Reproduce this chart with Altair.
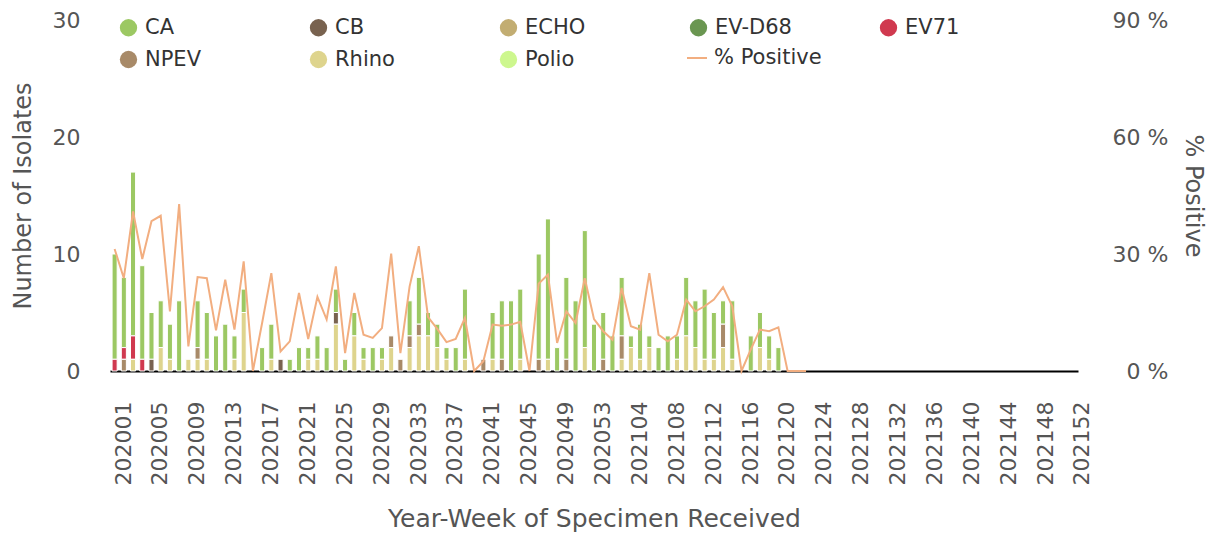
import altair as alt
import pandas as pd

# x categories: year-week
weeks = [f"2020{w:02d}" for w in range(1, 54)] + [f"2021{w:02d}" for w in range(1, 53)]
tick_weeks = weeks[::4]

types = ["CA", "CB", "ECHO", "EV-D68", "EV71", "NPEV", "Rhino", "Polio"]
type_colors = ["#9cc863", "#78624f", "#c2ad72", "#6a9651", "#d0394f", "#a88a68", "#ded48d", "#cdf78e"]
# stacking order from the baseline upward
stack_order = ["Polio", "Rhino", "NPEV", "EV71", "EV-D68", "ECHO", "CB", "CA"]

ca = [9, 6, 14, 8, 4, 4, 3, 6, 0, 4,
      4, 3, 4, 2, 2, 0, 2, 3, 0, 1,
      2, 1, 2, 2, 2, 1, 2, 1, 2, 1,
      0, 0, 3, 4, 2, 2, 1, 2, 6, 0,
      0, 4, 5, 6, 6, 0, 9, 12, 2, 7,
      6, 10, 4, 4, 3, 5, 1, 3, 1, 2,
      3, 2, 5, 4, 6, 4, 2, 5, 0, 3,
      3, 2, 2]
cb = [0, 0, 0, 0, 1, 0, 0, 0, 0, 0,
      0, 0, 0, 0, 0, 0, 0, 0, 1, 0,
      0, 0, 0, 0, 1, 0, 0, 0, 0, 0,
      0, 0, 0, 0, 0, 0, 0, 0, 0, 0,
      0, 0, 0, 0, 0, 0, 0, 0, 0, 0,
      0, 0, 0, 0, 0, 0, 0, 0, 0, 0,
      0, 0, 0, 0, 0, 0, 0, 0, 0, 0,
      0, 0, 0]
ev71 = [1, 1, 2, 1, 0, 0, 0, 0, 0, 0,
        0, 0, 0, 0, 0, 0, 0, 0, 0, 0,
        0, 0, 0, 0, 0, 0, 0, 0, 0, 0,
        0, 0, 0, 0, 0, 0, 0, 0, 0, 0,
        0, 0, 0, 0, 0, 0, 0, 0, 0, 0,
        0, 0, 0, 0, 0, 0, 0, 0, 0, 0,
        0, 0, 0, 0, 0, 0, 0, 0, 0, 0,
        0, 0, 0]
npev = [0, 1, 0, 0, 0, 0, 0, 0, 0, 1,
        0, 0, 0, 0, 0, 0, 0, 0, 0, 0,
        0, 0, 0, 0, 0, 0, 0, 0, 0, 0,
        1, 1, 1, 1, 0, 0, 0, 0, 0, 0,
        1, 0, 1, 0, 0, 0, 1, 0, 0, 1,
        0, 0, 0, 1, 0, 2, 0, 0, 0, 0,
        0, 0, 0, 0, 0, 0, 2, 0, 0, 0,
        0, 0, 0]
rhino = [0, 0, 1, 0, 0, 2, 1, 0, 1, 1,
         1, 0, 0, 1, 5, 0, 0, 1, 0, 0,
         0, 1, 1, 0, 4, 0, 3, 1, 0, 1,
         2, 0, 2, 3, 3, 2, 1, 0, 1, 0,
         0, 1, 0, 0, 1, 0, 0, 1, 0, 0,
         0, 2, 0, 0, 0, 1, 2, 1, 2, 0,
         0, 1, 3, 2, 1, 1, 2, 1, 0, 0,
         2, 1, 0]
echo = [0] * 73
evd68 = [0] * 73
polio = [0] * 73

pct_positive = [31.3, 23.8, 40.9, 28.7, 38.4, 39.8, 15.3, 42.8, 6.3, 24.1,
                23.8, 10.4, 23.4, 10.6, 28.1, 0.0, 12.3, 25.1, 5.0, 7.6,
                20.0, 8.2, 19.0, 13.2, 26.8, 4.6, 20.0, 9.3, 8.5, 11.0,
                30.1, 4.6, 21.7, 32.0, 13.8, 10.8, 7.4, 8.2, 13.6, 0.0,
                2.5, 11.9, 11.6, 11.9, 12.6, 0.0, 22.4, 24.7, 7.2, 15.3,
                12.3, 23.8, 13.3, 10.2, 8.0, 21.3, 11.5, 10.6, 25.1, 9.3,
                7.6, 9.3, 18.3, 15.3, 16.6, 18.3, 21.5, 16.6, 0.0, 5.5,
                10.6, 10.2, 11.2, 0.0, 0.0, 0.0]

series = {"CA": ca, "CB": cb, "ECHO": echo, "EV-D68": evd68, "EV71": ev71,
          "NPEV": npev, "Rhino": rhino, "Polio": polio}
rows = []
for t, vals in series.items():
    for i, v in enumerate(vals):
        if v > 0:
            rows.append({"week": weeks[i], "type": t, "count": v,
                         "rank": stack_order.index(t)})
bars_df = pd.DataFrame(rows)
line_df = pd.DataFrame({"week": weeks[:len(pct_positive)], "pct": pct_positive,
                        "series": "% Positive"})

FONT = "DejaVu Sans"
AX = "#555555"

x_enc = alt.X("week:N", scale=alt.Scale(domain=weeks, paddingInner=0.45),
              axis=alt.Axis(values=tick_weeks, labelAngle=-90, labelFontSize=22,
                            labelColor=AX, labelPadding=30, labelOffset=9,
                            ticks=False, tickSize=0, domain=True, domainColor="#000000",
                            domainWidth=2, grid=False,
                            title="Year-Week of Specimen Received", titleFontSize=25,
                            titleColor=AX, titleFontWeight="normal", titlePadding=22))

bars = alt.Chart(bars_df).mark_bar(stroke="white", strokeWidth=1).encode(
    x=x_enc,
    y=alt.Y("count:Q", stack="zero", scale=alt.Scale(domain=[0, 30]),
            axis=alt.Axis(values=[0, 10, 20, 30], title="Number of Isolates",
                          titleFontSize=24, titleColor=AX, titleFontWeight="normal",
                          titlePadding=17, labelFontSize=22, labelColor=AX,
                          labelPadding=30, ticks=False, tickSize=0, domain=False,
                          grid=False)),
    color=alt.Color("type:N", scale=alt.Scale(domain=types, range=type_colors),
                    legend=alt.Legend(title=None, orient="none", legendX=8, legendY=-3,
                                      direction="horizontal",
                                      columns=5, gridAlign="all", columnPadding=86,
                                      rowPadding=10, symbolType="circle", symbolSize=300,
                                      symbolStrokeWidth=0, labelFontSize=21,
                                      labelColor="#333333", labelOffset=6, padding=0)),
    order=alt.Order("rank:Q", sort="ascending"),
)

line = alt.Chart(line_df).mark_line(strokeWidth=2).encode(
    x=alt.X("week:N", scale=alt.Scale(domain=weeks, paddingInner=0.45)),
    y=alt.Y("pct:Q", scale=alt.Scale(domain=[0, 90]),
            axis=alt.Axis(orient="right", values=[0, 30, 60, 90],
                          labelExpr="datum.value + ' %'", labelAlign="right",
                          labelPadding=90, labelFontSize=22, labelColor=AX,
                          ticks=False, tickSize=0, domain=False, grid=False,
                          title="% Positive", titleFontSize=24, titleColor=AX,
                          titleFontWeight="normal", titlePadding=12, titleAngle=90)),
    stroke=alt.Stroke("series:N", scale=alt.Scale(domain=["% Positive"], range=["#f2ae80"]),
                      legend=alt.Legend(title=None, orient="none", legendX=576, legendY=27,
                                        symbolType="stroke", symbolSize=400,
                                        symbolStrokeWidth=2, labelFontSize=21,
                                        labelColor="#333333", labelOffset=6, padding=0)),
)

chart = alt.layer(bars, line).resolve_scale(y="independent", color="independent").properties(
    width=968, height=351,
    padding={"left": 3, "top": 1, "right": 4, "bottom": 0},
).configure(font=FONT).configure_view(stroke=None)

chart.save("out.html", embed_options={"renderer": "svg", "actions": False})
